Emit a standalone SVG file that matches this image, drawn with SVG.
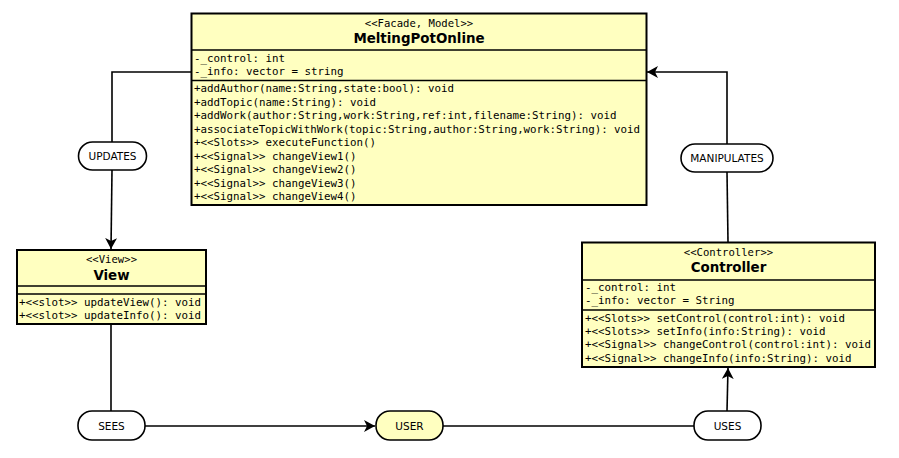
<svg xmlns="http://www.w3.org/2000/svg" width="899" height="458" viewBox="0 0 899 458">
  <style>
    .cls { fill: #ffffc0; stroke: #000; stroke-width: 2; }
    .div { stroke: #000; stroke-width: 1.5; }
    .stereo { font-family: "DejaVu Sans Mono", monospace; font-size: 10.6px; text-anchor: middle; fill: #000; }
    .name { font-family: "DejaVu Sans", sans-serif; font-size: 13.4px; font-weight: bold; text-anchor: middle; fill: #000; }
    .mem { font-family: "DejaVu Sans Mono", monospace; font-size: 10.8px; fill: #000; }
    .pill { fill: #fff; stroke: #000; stroke-width: 1.6; }
    .pill-user { fill: #ffffc0; stroke: #000; stroke-width: 1.6; }
    .plabel { font-family: "DejaVu Sans", sans-serif; font-size: 10.5px; text-anchor: middle; fill: #000; }
    .edge { fill: none; stroke: #000; stroke-width: 1.6; }
  </style>
  <defs>
    <marker id="arrow" markerWidth="12" markerHeight="12" refX="11" refY="6" orient="auto" markerUnits="userSpaceOnUse">
      <path d="M0,0 L11,6 L0,12 L3,6 Z" fill="#000"/>
    </marker>
  </defs>
  <rect width="899" height="458" fill="#fff"/>

  <!-- connectors -->
  <g id="connectors">
    <polyline class="edge" points="191,72 112,72 112,142"/>
    <line class="edge" x1="112" y1="170" x2="111" y2="249" marker-end="url(#arrow)"/>
    <line class="edge" x1="728" y1="242" x2="727" y2="172"/>
    <polyline class="edge" points="727,144 727,72 647,72" marker-end="url(#arrow)"/>
    <line class="edge" x1="111" y1="324" x2="111" y2="411"/>
    <line class="edge" x1="145" y1="426" x2="375" y2="426" marker-end="url(#arrow)"/>
    <line class="edge" x1="443" y1="426" x2="694" y2="426"/>
    <line class="edge" x1="727" y1="411" x2="728" y2="368" marker-end="url(#arrow)"/>
  </g>

  <!-- MeltingPotOnline class -->
  <g id="meltingpot">
    <rect class="cls" x="191.5" y="13.5" width="455" height="191.5"/>
    <line class="div" x1="191.5" y1="50" x2="646.5" y2="50"/>
    <line class="div" x1="191.5" y1="80.5" x2="646.5" y2="80.5"/>
    <text class="stereo" x="419" y="27">&lt;&lt;Facade, Model&gt;&gt;</text>
    <text class="name" x="419" y="43">MeltingPotOnline</text>
    <text class="mem" x="194" y="62">-_control: int</text>
    <text class="mem" x="194" y="75">-_info: vector = string</text>
    <text class="mem" x="194" y="92">+addAuthor(name:String,state:bool): void</text>
    <text class="mem" x="194" y="105.5">+addTopic(name:String): void</text>
    <text class="mem" x="194" y="119">+addWork(author:String,work:String,ref:int,filename:String): void</text>
    <text class="mem" x="194" y="132.5" textLength="446" lengthAdjust="spacing">+associateTopicWithWork(topic:String,author:String,work:String): void</text>
    <text class="mem" x="194" y="146">+&lt;&lt;Slots&gt;&gt; executeFunction()</text>
    <text class="mem" x="194" y="159.5">+&lt;&lt;Signal&gt;&gt; changeView1()</text>
    <text class="mem" x="194" y="173">+&lt;&lt;Signal&gt;&gt; changeView2()</text>
    <text class="mem" x="194" y="186.5">+&lt;&lt;Signal&gt;&gt; changeView3()</text>
    <text class="mem" x="194" y="200">+&lt;&lt;Signal&gt;&gt; changeView4()</text>
  </g>

  <!-- View class -->
  <g id="view">
    <rect class="cls" x="17" y="250" width="189" height="74"/>
    <line class="div" x1="17" y1="286" x2="206" y2="286"/>
    <line class="div" x1="17" y1="294" x2="206" y2="294"/>
    <text class="stereo" x="111.5" y="263">&lt;&lt;View&gt;&gt;</text>
    <text class="name" x="111.5" y="280">View</text>
    <text class="mem" x="19" y="306">+&lt;&lt;slot&gt;&gt; updateView(): void</text>
    <text class="mem" x="19" y="319">+&lt;&lt;slot&gt;&gt; updateInfo(): void</text>
  </g>

  <!-- Controller class -->
  <g id="controller">
    <rect class="cls" x="582" y="242.5" width="293" height="124.5"/>
    <line class="div" x1="582" y1="280" x2="875" y2="280"/>
    <line class="div" x1="582" y1="310" x2="875" y2="310"/>
    <text class="stereo" x="728.5" y="256">&lt;&lt;Controller&gt;&gt;</text>
    <text class="name" x="728.5" y="272">Controller</text>
    <text class="mem" x="585" y="291">-_control: int</text>
    <text class="mem" x="585" y="304">-_info: vector = String</text>
    <text class="mem" x="585" y="322">+&lt;&lt;Slots&gt;&gt; setControl(control:int): void</text>
    <text class="mem" x="585" y="335">+&lt;&lt;Slots&gt;&gt; setInfo(info:String): void</text>
    <text class="mem" x="585" y="348">+&lt;&lt;Signal&gt;&gt; changeControl(control:int): void</text>
    <text class="mem" x="585" y="361.5">+&lt;&lt;Signal&gt;&gt; changeInfo(info:String): void</text>
  </g>

  <!-- relation labels -->
  <g id="updates">
    <rect class="pill" x="78.5" y="142" width="68" height="28" rx="14"/>
    <text class="plabel" x="112.5" y="160">UPDATES</text>
  </g>
  <g id="manipulates">
    <rect class="pill" x="681" y="144" width="92" height="28" rx="14"/>
    <text class="plabel" x="727" y="162">MANIPULATES</text>
  </g>
  <g id="sees">
    <rect class="pill" x="78" y="411" width="67" height="29" rx="14"/>
    <text class="plabel" x="111.5" y="429.5">SEES</text>
  </g>
  <g id="user">
    <rect class="pill-user" x="376" y="411" width="67" height="29" rx="14"/>
    <text class="plabel" x="409.5" y="429.5">USER</text>
  </g>
  <g id="uses">
    <rect class="pill" x="694" y="411" width="67" height="29" rx="14"/>
    <text class="plabel" x="727.5" y="429.5">USES</text>
  </g>
</svg>
